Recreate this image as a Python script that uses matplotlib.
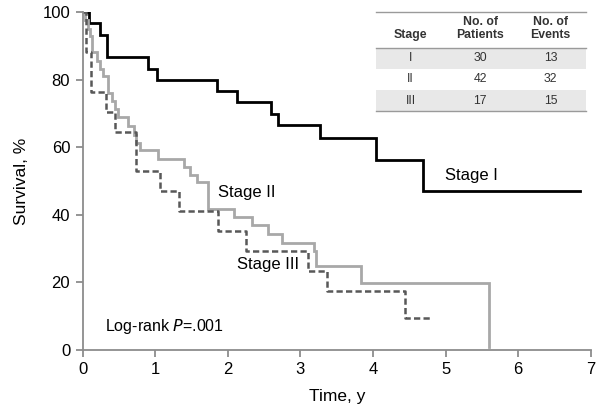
import matplotlib
matplotlib.use("Agg")
import matplotlib.pyplot as plt
from matplotlib.patches import Rectangle
from matplotlib.lines import Line2D

plt.rcParams['font.family'] = ['Liberation Sans', 'DejaVu Sans']

# Kaplan-Meier step data (time in years, survival %)
stage1_t = [0, 0.09, 0.24, 0.33, 0.90, 1.03, 1.85, 2.13, 2.59, 2.69, 3.27, 4.04, 4.69, 6.85]
stage1_s = [100, 96.7, 93.3, 86.7, 83.3, 80.0, 76.7, 73.3, 70.0, 66.7, 62.7, 56.4, 47.2, 47.2]

stage2_t = [0, 0.03, 0.07, 0.10, 0.13, 0.20, 0.24, 0.28, 0.35, 0.40, 0.445, 0.49, 0.63, 0.70,
            0.74, 0.79, 1.04, 1.40, 1.48, 1.57, 1.72, 2.08, 2.33, 2.56, 2.74, 3.19, 3.22, 3.83, 5.60]
stage2_s = [100, 97.6, 95.2, 92.9, 88.1, 85.7, 83.3, 81.0, 76.2, 73.8, 71.4, 69.0, 66.4, 63.6,
            61.2, 59.2, 56.7, 54.2, 51.8, 49.8, 41.9, 39.4, 37.0, 34.3, 31.7, 29.3, 24.9, 19.7, 1.0]

stage3_t = [0, 0.05, 0.12, 0.32, 0.45, 0.74, 1.07, 1.33, 1.87, 2.25, 3.11, 3.36, 4.44, 4.79]
stage3_s = [100, 88.2, 76.5, 70.6, 64.7, 52.9, 47.1, 41.2, 35.3, 29.4, 23.5, 17.6, 9.4, 9.4]

table_header = ["Stage", "No. of\nPatients", "No. of\nEvents"]
table_stage = ["I", "II", "III"]
table_patients = [30, 42, 17]
table_events = [13, 32, 15]

W, H = 600, 416
fig = plt.figure(figsize=(6.0, 4.16), dpi=100)
ax = fig.add_axes([82.7 / W, 1 - 350 / H, (590.7 - 82.7) / W, (350 - 12.3) / H])

ax.step(stage1_t, stage1_s, where='post', color='black', lw=2.0, solid_joinstyle='miter')
ax.step(stage2_t, stage2_s, where='post', color='#a8a8a8', lw=2.0, solid_joinstyle='miter')
ax.step(stage3_t, stage3_s, where='post', color='#585858', lw=1.8, dashes=(2.5, 1.3))

ax.set_xlim(0, 7)
ax.set_ylim(0, 100)
ax.set_xticks(range(0, 8))
ax.set_yticks(range(0, 101, 20))
for s in ['top', 'right']:
    ax.spines[s].set_visible(False)
for s in ['left', 'bottom']:
    ax.spines[s].set_color('#8c8c8c')
    ax.spines[s].set_linewidth(1.3)
ax.tick_params(axis='both', direction='out', length=5, width=1.3, color='#8c8c8c',
               labelsize=12, labelcolor='black', pad=4)
ax.set_xlabel("Time, y", fontsize=12.5, labelpad=8)
ax.set_ylabel("Survival, %", fontsize=12.5, labelpad=10)

ax.text(4.99, 51.8, "Stage I", fontsize=12, va='center', ha='left')
ax.text(1.86, 46.5, "Stage II", fontsize=12, va='center', ha='left')
ax.text(2.13, 25.4, "Stage III", fontsize=12, va='center', ha='left')
ax.text(0.31, 7.1, "Log-rank $\\it{P}$=.001", fontsize=11.5, va='center', ha='left')

# Inset table (pixel layout converted to figure fraction)
def fx(x):
    return x / W

def fy(y):
    return 1 - y / H

tx0, tx1 = 376, 586
row_edges = [47.7, 69.0, 90.0, 111.0]
for i in (0, 2):
    fig.add_artist(Rectangle((fx(tx0), fy(row_edges[i + 1])), fx(tx1) - fx(tx0),
                             fy(row_edges[i]) - fy(row_edges[i + 1]),
                             transform=fig.transFigure, facecolor='#e8e8e8', edgecolor='none'))
for yl in (11.7, 47.7, 111.0):
    fig.add_artist(Line2D([fx(tx0), fx(tx1)], [fy(yl), fy(yl)], transform=fig.transFigure,
                          color='#9a9a9a', lw=1.0))
col_x = [410.7, 480.3, 550.7]
for cx, h in zip(col_x, table_header):
    fig.text(fx(cx), fy(41.0), h, ha='center', va='bottom', fontsize=8.8,
             fontweight='bold', color='#333333', linespacing=1.1)
for r in range(3):
    yc = (row_edges[r] + row_edges[r + 1]) / 2
    vals = [table_stage[r], str(table_patients[r]), str(table_events[r])]
    for cx, v in zip(col_x, vals):
        fig.text(fx(cx), fy(yc), v, ha='center', va='center', fontsize=8.8, color='#333333')

fig.savefig("out.png", dpi=100)
